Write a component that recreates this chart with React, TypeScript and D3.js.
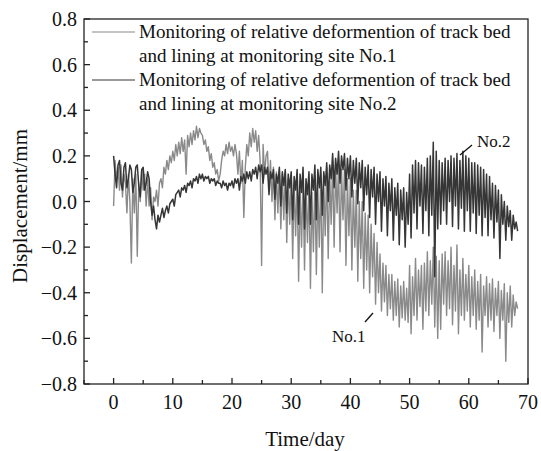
import React from "react";
import * as d3 from "d3";

const DAYS = [
  0, 1, 2, 3, 4, 5, 6, 7, 8, 9, 10, 11, 12, 13, 14, 15, 16, 17, 18, 19, 20, 21, 22, 23, 24, 25, 26, 27, 28, 29,
  30, 31, 32, 33, 34, 35, 36, 37, 38, 39, 40, 41, 42, 43, 44, 45, 46, 47, 48, 49, 50, 51, 52, 53, 54, 55, 56, 57,
  58, 59, 60, 61, 62, 63, 64, 65, 66, 67, 68,
];
const HOURS = [0, 6, 12, 18];

// Site No.1 (light grey), readings at 0h, 6h, 12h, 18h of each day
const SITE1 = [
  [-0.02, 0.18, 0.1, 0.15],
  [0.05, 0.16, 0.02, 0.12],
  [0.08, -0.05, 0.12, 0.0],
  [-0.27, 0.1, -0.05, 0.12],
  [-0.24, 0.08, 0.0, 0.14],
  [0.05, 0.12, -0.02, 0.1],
  [-0.02, 0.06, -0.08, 0.02],
  [0.0, 0.05, -0.02, 0.08],
  [0.1, 0.06, 0.15, 0.12],
  [0.18, 0.14, 0.2, 0.17],
  [0.22, 0.18, 0.25, 0.2],
  [0.26, 0.21, 0.28, 0.22],
  [0.27, 0.12, 0.29, 0.24],
  [0.3, 0.25, 0.31, 0.27],
  [0.33, 0.28, 0.32, 0.3],
  [0.29, 0.25, 0.27, 0.22],
  [0.24, 0.18, 0.21, 0.15],
  [0.17, 0.12, 0.14, 0.09],
  [0.12, 0.18, 0.22, 0.2],
  [0.25, 0.21, 0.26, 0.22],
  [0.24, 0.2, 0.25, 0.21],
  [0.12, 0.22, 0.08, 0.18],
  [-0.07, 0.15, 0.25, 0.2],
  [0.3, 0.24, 0.32, 0.26],
  [0.31, 0.22, 0.29, 0.18],
  [-0.28, 0.25, 0.12, 0.2],
  [0.22, 0.05, 0.18, 0.0],
  [0.15, -0.08, 0.13, -0.05],
  [0.14, -0.12, 0.12, -0.08],
  [0.13, -0.18, 0.1, -0.1],
  [0.12, -0.25, 0.08, -0.15],
  [0.1, -0.35, 0.05, -0.2],
  [0.12, -0.3, 0.06, -0.18],
  [0.08, -0.38, 0.04, -0.22],
  [0.1, -0.32, 0.06, -0.2],
  [0.12, -0.4, 0.08, -0.15],
  [0.15, -0.25, 0.12, -0.1],
  [0.18, -0.2, 0.15, -0.05],
  [0.16, -0.22, 0.14, -0.08],
  [0.14, -0.28, 0.1, -0.15],
  [0.1, -0.3, 0.05, -0.2],
  [0.05, -0.35, 0.0, -0.25],
  [0.0, -0.38, -0.05, -0.3],
  [-0.06, -0.4, -0.1, -0.33],
  [-0.14, -0.45, -0.18, -0.4],
  [-0.23, -0.48, -0.27, -0.44],
  [-0.28, -0.5, -0.32, -0.47],
  [-0.32, -0.52, -0.35, -0.5],
  [-0.34, -0.55, -0.37, -0.51],
  [-0.35, -0.52, -0.38, -0.53],
  [-0.28, -0.58, -0.33, -0.5],
  [-0.25, -0.52, -0.3, -0.46],
  [-0.28, -0.56, -0.27, -0.48],
  [-0.22, -0.5, -0.26, -0.45],
  [-0.2, -0.55, -0.24, -0.6],
  [-0.26, -0.56, -0.23, -0.45],
  [-0.22, -0.5, -0.26, -0.47],
  [-0.2, -0.54, -0.28, -0.48],
  [-0.19, -0.58, -0.3, -0.5],
  [-0.25, -0.52, -0.32, -0.48],
  [-0.28, -0.55, -0.33, -0.5],
  [-0.3, -0.56, -0.35, -0.52],
  [-0.32, -0.66, -0.37, -0.5],
  [-0.33, -0.55, -0.36, -0.52],
  [-0.34, -0.57, -0.38, -0.5],
  [-0.35, -0.6, -0.39, -0.52],
  [-0.36, -0.7, -0.4, -0.53],
  [-0.37, -0.55, -0.41, -0.5],
  [-0.44, -0.47],
];

// Site No.2 (dark grey)
const SITE2 = [
  [0.2, 0.12, 0.06, 0.16],
  [0.18, 0.08, 0.05, 0.15],
  [0.17, 0.06, 0.1, 0.16],
  [0.14, 0.04, 0.08, 0.15],
  [0.16, 0.07, 0.02, 0.14],
  [0.15, 0.05, 0.08, 0.13],
  [0.1, 0.0, -0.06, -0.02],
  [-0.08, -0.12, -0.06, -0.09],
  [-0.06, -0.03, -0.07, -0.04],
  [-0.02, -0.05, -0.01, 0.0],
  [0.01, -0.02, 0.03, 0.04],
  [0.05, 0.02, 0.06, 0.05],
  [0.07, 0.04, 0.08, 0.07],
  [0.09, 0.06, 0.1, 0.09],
  [0.11, 0.08, 0.12, 0.1],
  [0.12, 0.09, 0.11, 0.1],
  [0.11, 0.08, 0.1, 0.09],
  [0.1, 0.07, 0.09, 0.08],
  [0.08, 0.06, 0.09, 0.07],
  [0.08, 0.05, 0.08, 0.07],
  [0.09, 0.06, 0.1, 0.08],
  [0.1, 0.05, 0.11, 0.09],
  [0.12, 0.08, 0.13, 0.1],
  [0.13, 0.09, 0.14, 0.12],
  [0.15, 0.1, 0.16, 0.13],
  [0.16, 0.08, 0.15, 0.12],
  [0.15, 0.03, 0.13, 0.1],
  [0.14, 0.01, 0.12, 0.08],
  [0.15, -0.02, 0.13, 0.07],
  [0.14, -0.05, 0.12, 0.06],
  [0.13, -0.08, 0.11, 0.05],
  [0.14, -0.1, 0.12, 0.04],
  [0.15, -0.12, 0.1, 0.03],
  [0.13, -0.1, 0.12, 0.05],
  [0.16, -0.08, 0.14, 0.06],
  [0.15, -0.06, 0.13, 0.07],
  [0.17, 0.0, 0.16, 0.1],
  [0.21, 0.06, 0.19, 0.12],
  [0.22, 0.08, 0.2, 0.14],
  [0.21, 0.05, 0.19, 0.1],
  [0.2, 0.02, 0.18, 0.08],
  [0.19, -0.01, 0.17, 0.06],
  [0.18, -0.04, 0.15, 0.03],
  [0.16, -0.07, 0.14, 0.02],
  [0.15, -0.1, 0.12, 0.0],
  [0.13, -0.13, 0.1, -0.02],
  [0.11, -0.15, 0.08, -0.04],
  [0.1, -0.17, 0.06, -0.06],
  [0.08, -0.19, 0.05, -0.08],
  [0.06, -0.2, 0.04, -0.1],
  [0.12, -0.16, 0.16, -0.05],
  [0.18, -0.12, 0.17, -0.02],
  [0.16, -0.14, 0.15, -0.04],
  [0.19, -0.15, 0.2, -0.06],
  [0.26, -0.33, 0.22, -0.12],
  [0.18, -0.1, 0.17, -0.04],
  [0.19, -0.1, 0.18, 0.0],
  [0.2, -0.11, 0.19, -0.02],
  [0.21, -0.12, 0.18, -0.03],
  [0.22, -0.13, 0.2, -0.04],
  [0.19, -0.13, 0.17, -0.05],
  [0.17, -0.14, 0.16, -0.06],
  [0.15, -0.15, 0.14, -0.07],
  [0.12, -0.15, 0.11, -0.08],
  [0.08, -0.16, 0.07, -0.09],
  [0.05, -0.25, 0.03, -0.1],
  [0.0, -0.17, -0.02, -0.11],
  [-0.04, -0.17, -0.06, -0.12],
  [-0.09, -0.13],
];

const Y_TICKS = [-0.8, -0.6, -0.4, -0.2, 0.0, 0.2, 0.4, 0.6, 0.8];
const X_TICKS = [0, 10, 20, 30, 40, 50, 60, 70];
const LEGEND_LINES = [
  "Monitoring of relative deformention of track bed",
  "and lining at monitoring site No.1",
  "Monitoring of relative deformention of track bed",
  "and lining at monitoring site No.2",
];

const W = 541;
const H = 451;
const PL = 84;
const PR = 528;
const PT = 19;
const PB = 384;
const C1 = "#8a8a8a";
const C2 = "#363636";
const FONT = "'Liberation Serif', 'Times New Roman', serif";

function toPoints(rows: number[][]): [number, number][] {
  const pts: [number, number][] = [];
  rows.forEach((row, i) => {
    row.forEach((v, j) => {
      pts.push([DAYS[i] + HOURS[j] / 24, v]);
    });
  });
  return pts;
}

export default function App() {
  const x = d3.scaleLinear().domain([-5, 70]).range([PL, PR]);
  const y = d3.scaleLinear().domain([-0.8, 0.8]).range([PB, PT]);
  const line = d3
    .line<[number, number]>()
    .x((d) => x(d[0]))
    .y((d) => y(d[1]));
  const p1 = line(toPoints(SITE1)) || "";
  const p2 = line(toPoints(SITE2)) || "";
  const fmt = (v: number) => (v < 0 ? "\u2212" : "") + Math.abs(v).toFixed(1);
  const yMinor = d3.range(-0.7, 0.8, 0.2);
  const xMinor = [-5, 5, 15, 25, 35, 45, 55, 65];

  return (
    <svg
      width={W}
      height={H}
      style={{ position: "absolute", left: 0, top: 0, background: "#fff" }}
      fontFamily={FONT}
    >
      <rect x={0} y={0} width={W} height={H} fill="#fff" />
      <path d={p1} fill="none" stroke={C1} strokeWidth={1.4} strokeLinejoin="round" />
      <path d={p2} fill="none" stroke={C2} strokeWidth={1.5} strokeLinejoin="round" />
      <rect x={PL} y={PT} width={PR - PL} height={PB - PT} fill="none" stroke="#222" strokeWidth={1.3} />
      {Y_TICKS.map((t) => (
        <g key={"y" + t}>
          <line x1={PL} x2={PL + 6} y1={y(t)} y2={y(t)} stroke="#222" strokeWidth={1.3} />
          <text x={PL - 7} y={y(t) + 7} textAnchor="end" fontSize={20} fill="#111">
            {fmt(t)}
          </text>
        </g>
      ))}
      {yMinor.map((t) => (
        <line key={"ym" + t} x1={PL} x2={PL + 4} y1={y(t)} y2={y(t)} stroke="#222" strokeWidth={1.3} />
      ))}
      {X_TICKS.map((t) => (
        <g key={"x" + t}>
          <line x1={x(t)} x2={x(t)} y1={PB} y2={PB - 6} stroke="#222" strokeWidth={1.3} />
          <text x={x(t)} y={PB + 25} textAnchor="middle" fontSize={20} fill="#111">
            {t}
          </text>
        </g>
      ))}
      {xMinor.map((t) => (
        <line key={"xm" + t} x1={x(t)} x2={x(t)} y1={PB} y2={PB - 4} stroke="#222" strokeWidth={1.3} />
      ))}
      <text x={305} y={446} textAnchor="middle" fontSize={21} fill="#111">
        Time/day
      </text>
      <text
        transform={`translate(27, ${206}) rotate(-90)`}
        textAnchor="middle"
        fontSize={21}
        fill="#111"
      >
        Displacement/mm
      </text>
      <line x1={92} x2={135} y1={32} y2={32} stroke={C1} strokeWidth={1.2} />
      <line x1={92} x2={135} y1={80} y2={80} stroke={C2} strokeWidth={1.2} />
      {LEGEND_LINES.map((s, i) => (
        <text key={"l" + i} x={139} y={38 + i * 24} fontSize={19} fill="#111">
          {s}
        </text>
      ))}
      <line x1={460} y1={155} x2={472} y2={145} stroke="#111" strokeWidth={1.3} />
      <text x={477} y={147} fontSize={17} fill="#111">
        No.2
      </text>
      <line x1={365} y1={322} x2={373} y2={313} stroke="#111" strokeWidth={1.3} />
      <text x={332} y={342} fontSize={17} fill="#111">
        No.1
      </text>
    </svg>
  );
}
